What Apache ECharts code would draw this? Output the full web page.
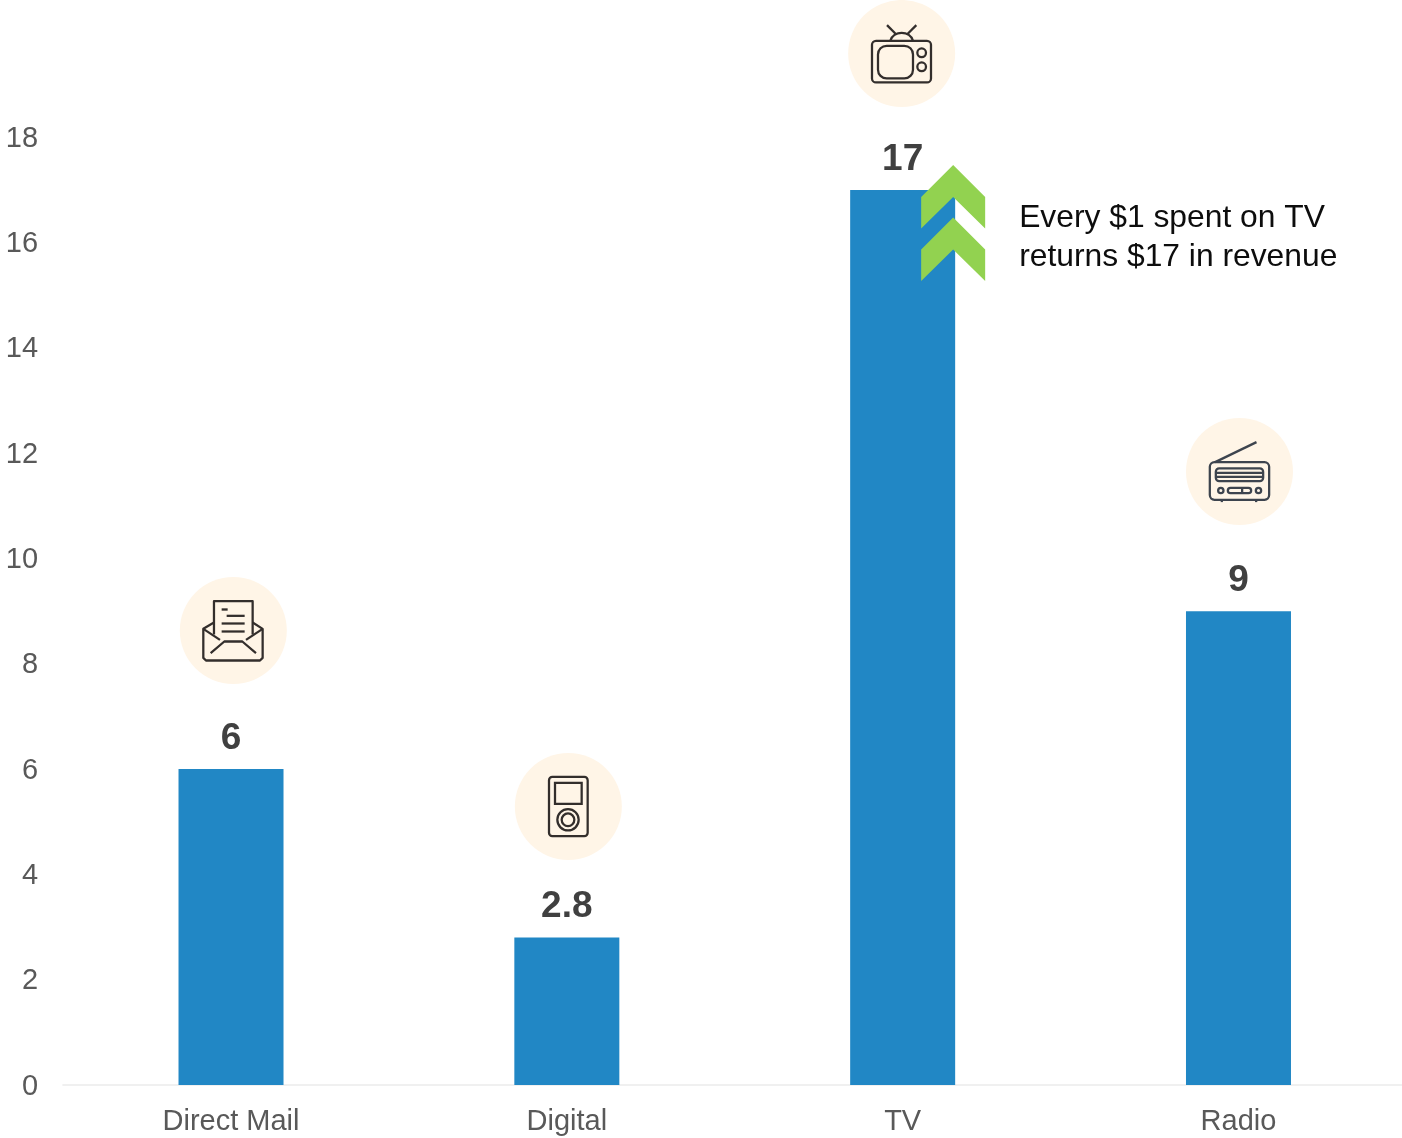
<!DOCTYPE html>
<html>
<head>
<meta charset="utf-8">
<style>html,body{margin:0;padding:0;background:#fff}#c{width:1402px;height:1138px}</style>
<script src="https://cdn.jsdelivr.net/npm/echarts@6/dist/echarts.min.js"></script>
</head>
<body>
<div id="c"></div>
<script>
const categories = ['Direct Mail', 'Digital', 'TV', 'Radio'];
const returns = [6, 2.8, 17, 9];
const yTicks = { min: 0, max: 18, interval: 2 };
const highlightCategory = 'TV';
const highlightValue = 17;
const noteLines = ['Every $1 spent on TV', 'returns $17 in revenue'];

const FONT = '"Liberation Sans", Arial, sans-serif';
const INK = '#332e2c';
const RADIO_INK = '#3d444e';
const SW = 6.8; // stroke in 3x drawing units

function R(x, y, w, h, r, c) { return { type: 'rect', shape: { x, y, width: w, height: h, r: r || 0 }, style: { fill: 'none', stroke: c || INK, lineWidth: SW } }; }
function L(x1, y1, x2, y2, c, w) { return { type: 'line', shape: { x1, y1, x2, y2 }, style: { stroke: c || INK, lineWidth: w || SW, fill: 'none' } }; }
function C(cx, cy, r, c) { return { type: 'circle', shape: { cx, cy, r }, style: { fill: 'none', stroke: c || INK, lineWidth: SW } }; }
function P(points, c) { return { type: 'polyline', shape: { points }, style: { fill: 'none', stroke: c || INK, lineWidth: SW, lineJoin: 'round' } }; }

const icons = [
  { // envelope with letter
    rise: 138.6, dx: 2.3, ox: 190, oy: 180,
    parts: () => [
      P([[132, 156], [100, 175], [100, 262], [108, 270], [270, 270], [278, 262], [278, 175], [248, 156]]),
      P([[132, 192], [132, 92], [248, 92], [248, 192]]),
      P([[100, 175], [150, 208]]), P([[278, 175], [228, 208]]),
      P([[122, 248], [163, 213], [217, 213], [258, 248]]),
      L(155, 117, 173, 117, INK, 7), L(170, 136, 224, 136), L(155, 159, 224, 159), L(155, 183, 224, 183)
    ]
  },
  { // music player
    rise: 131.1, dx: 1.5, ox: 188, oy: 183,
    parts: () => [
      R(130, 94, 116, 178, 10), R(148, 112, 80, 63, 0),
      C(187, 223, 32), C(187, 223, 19)
    ]
  },
  { // television
    rise: 136.5, dx: -1, ox: 184, oy: 160,
    parts: () => [
      R(95, 122, 177, 125, 12), R(113, 137, 105, 98, 26),
      C(244, 158, 13), C(244, 200, 13),
      { type: 'bezierCurve', shape: { x1: 150, y1: 122, x2: 218, y2: 122, cpx1: 160, cpy1: 90, cpx2: 208, cpy2: 90 }, style: { fill: 'none', stroke: INK, lineWidth: SW } },
      L(140, 75, 168, 103), L(228, 75, 200, 103)
    ]
  },
  { // radio
    rise: 139.7, dx: 1, ox: 193, oy: 183,
    parts: () => [
      R(104, 155, 178, 113, 14, RADIO_INK), L(120, 155, 244, 95, RADIO_INK),
      R(122, 174, 142, 38, 10, RADIO_INK), L(122, 187, 264, 187, RADIO_INK), L(122, 199, 264, 199, RADIO_INK),
      C(137, 240, 8, RADIO_INK), C(250, 240, 8, RADIO_INK),
      R(158, 232, 70, 16, 8, RADIO_INK), L(201, 232, 201, 248, RADIO_INK),
      L(140, 268, 140, 275, RADIO_INK), L(243, 268, 243, 275, RADIO_INK)
    ]
  }
];

function renderIcon(params, api) {
  const idx = api.value(0);
  const top = api.coord([idx, api.value(1)]);
  const ic = icons[idx];
  const cx = top[0] + ic.dx, cy = top[1] - ic.rise;
  return {
    type: 'group',
    children: [
      { type: 'circle', shape: { cx, cy, r: 53.5 }, style: { fill: '#fff5e7', stroke: 'none' } },
      { type: 'group', x: cx - ic.ox / 3, y: cy - ic.oy / 3, scaleX: 1 / 3, scaleY: 1 / 3, children: ic.parts() }
    ]
  };
}

function renderNote(params, api) {
  const t = api.coord([api.value(0), api.value(1)]);
  const x = t[0], y = t[1];
  const chev = (dy) => ({
    type: 'polygon',
    shape: { points: [[x + 50.5, y - 25 + dy], [x + 82.5, y + 7 + dy], [x + 82.5, y + 38.5 + dy], [x + 50.5, y + 7 + dy], [x + 18.5, y + 38.5 + dy], [x + 18.5, y + 7 + dy]] },
    style: { fill: '#92d250', stroke: 'none' }
  });
  return {
    type: 'group',
    children: [
      chev(0), chev(52.5),
      { type: 'text', x: x + 116.5, y: y + 28.3, style: { text: noteLines[0], font: '31.8px ' + FONT, fill: '#0d0d0d', textAlign: 'left', textVerticalAlign: 'middle' } },
      { type: 'text', x: x + 116.5, y: y + 67.3, style: { text: noteLines[1], font: '31.8px ' + FONT, fill: '#0d0d0d', textAlign: 'left', textVerticalAlign: 'middle' } }
    ]
  };
}

const chart = echarts.init(document.getElementById('c'), null, { renderer: 'canvas', width: 1402, height: 1138 });
chart.setOption({
  animation: false,
  backgroundColor: '#ffffff',
  grid: { left: 63.1, width: 1343.3, top: 137.3, bottom: 53, containLabel: false, outerBoundsMode: 'none' },
  xAxis: {
    type: 'category',
    data: categories,
    axisTick: { show: false },
    axisLine: { show: true, lineStyle: { color: '#f0f0f0', width: 2 } },
    axisLabel: { color: '#595959', fontFamily: FONT, fontSize: 29, margin: 22 }
  },
  yAxis: {
    type: 'value',
    min: yTicks.min, max: yTicks.max, interval: yTicks.interval,
    splitLine: { show: false },
    axisLine: { show: false },
    axisTick: { show: false },
    axisLabel: { color: '#595959', fontFamily: FONT, fontSize: 29, margin: 25, verticalAlign: 'top', lineHeight: 3 }
  },
  series: [
    {
      type: 'bar',
      data: returns,
      barWidth: 105,
      itemStyle: { color: '#2187c5' },
      label: { show: true, position: 'top', distance: 12, color: '#404040', fontFamily: FONT, fontSize: 37, fontWeight: 'bold' }
    },
    {
      type: 'custom',
      data: returns.map((v, i) => [i, v]),
      encode: { x: 0, y: 1 },
      renderItem: renderIcon,
      clip: false,
      z: 3
    },
    {
      type: 'custom',
      data: [[categories.indexOf(highlightCategory), highlightValue]],
      encode: { x: 0, y: 1 },
      renderItem: renderNote,
      clip: false,
      z: 4
    }
  ]
});
</script>
</body>
</html>
